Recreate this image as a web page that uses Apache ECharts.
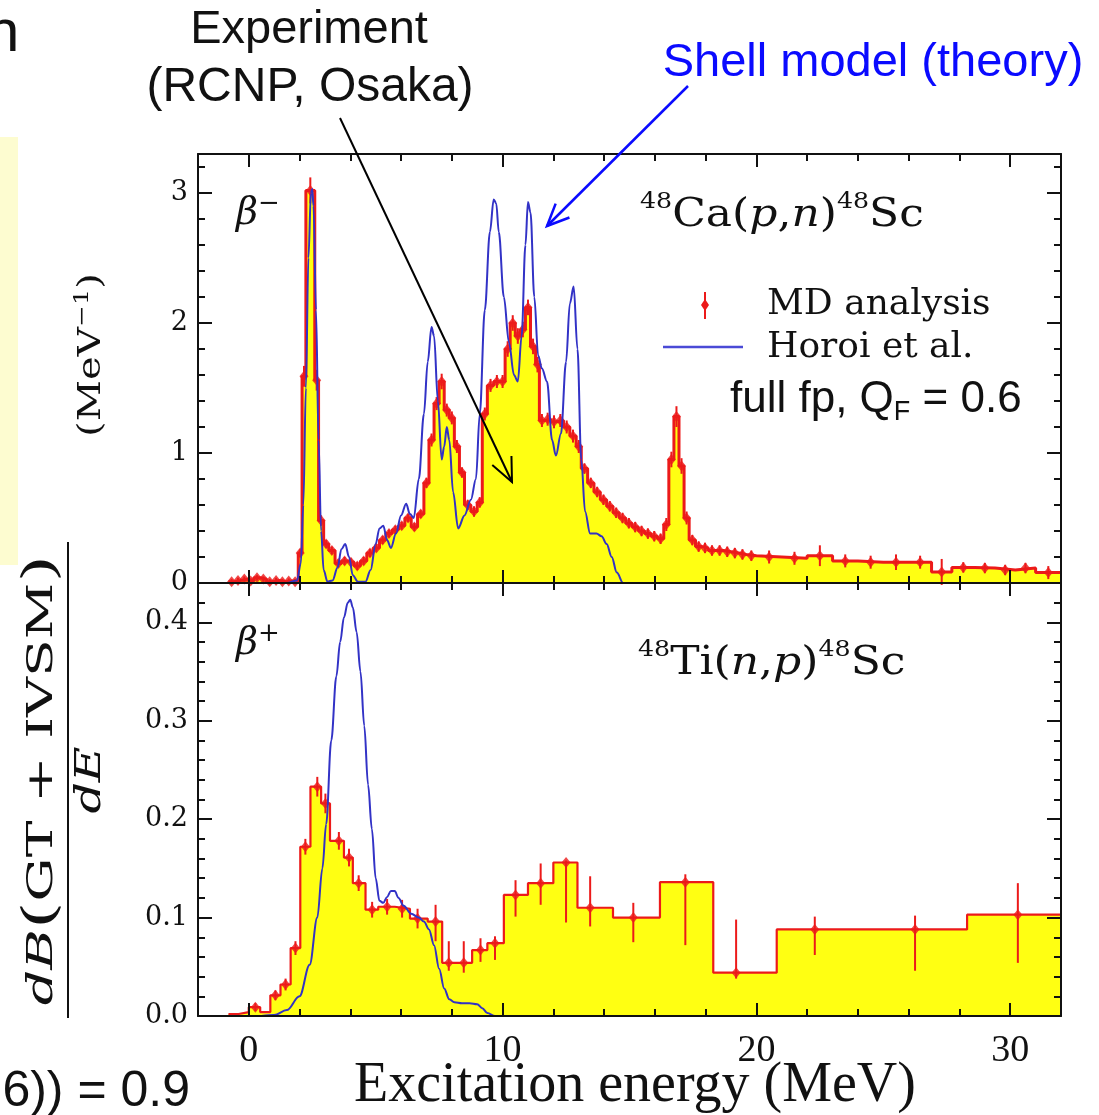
<!DOCTYPE html>
<html>
<head>
<meta charset="utf-8">
<title>48Ca(p,n) / 48Ti(n,p) strength distributions</title>
<script src="https://cdn.jsdelivr.net/npm/echarts@6.0.0/dist/echarts.min.js"></script>
<style>
html, body { margin: 0; padding: 0; background: #ffffff; }
#chart { width: 1099px; height: 1115px; }
</style>
</head>
<body>
<div id="chart"></div>
<script>
// ---- Axes: excitation energy (MeV) and the two strength panels ----
const xMin = -2, xMax = 32;
const xMajor = [0, 10, 20, 30];
const xMinor = [2, 4, 6, 8, 12, 14, 16, 18, 22, 24, 26, 28];
const topYMax = 3.3;
const topYMajor = [0, 1, 2, 3];
const topYMinor = [0.2, 0.4, 0.6, 0.8, 1.2, 1.4, 1.6, 1.8, 2.2, 2.4, 2.6, 2.8, 3.2];
const botYMax = 0.44;
const botYMajor = [0, 0.1, 0.2, 0.3, 0.4];
const botYMinor = [0.02, 0.04, 0.06, 0.08, 0.12, 0.14, 0.16, 0.18, 0.22, 0.24,
                   0.26, 0.28, 0.32, 0.34, 0.36, 0.38, 0.42];

// ---- beta-minus: 48Ca(p,n)48Sc, MD analysis (bin lower edges, values, errors) ----
const topEdges = [
  -0.8, -0.55, -0.3, -0.05, 0.2, 0.45, 0.7, 0.95, 1.2, 1.45,
  1.7, 1.95, 2.1, 2.25, 2.6, 2.75, 2.95, 3.15, 3.4, 3.65,
  3.9, 4.15, 4.4, 4.65, 4.9, 5.15, 5.4, 5.65, 5.9, 6.15,
  6.4, 6.65, 6.9, 7.1, 7.3, 7.5, 7.7, 7.9, 8.1, 8.3,
  8.5, 8.75, 9.0, 9.2, 9.4, 9.65, 9.9, 10.1, 10.3, 10.5,
  10.7, 10.9, 11.1, 11.3, 11.45, 11.65, 11.9, 12.15, 12.4, 12.65,
  12.9, 13.1, 13.35, 13.6, 13.85, 14.1, 14.35, 14.6, 14.85, 15.1,
  15.35, 15.6, 15.85, 16.1, 16.35, 16.55, 16.75, 16.95, 17.15, 17.35,
  17.6, 17.85, 18.1, 18.4, 18.7, 19.0, 19.3, 19.6, 20.0, 21.0,
  22.0, 23.0, 24.0, 25.0, 26.0, 26.9, 27.7, 28.6, 29.4, 30.2,
  31.0
];
const topEnd = 32.0;
const topVals = [
  0.01, 0.02, 0.03, 0.015, 0.04, 0.03, 0.01, 0.02, 0.01, 0.015,
  0.01, 0.23, 1.59, 3.02, 1.56, 0.48, 0.3, 0.25, 0.15, 0.17,
  0.16, 0.13, 0.17, 0.23, 0.27, 0.33, 0.38, 0.41, 0.44, 0.5,
  0.43, 0.53, 0.77, 1.1, 1.38, 1.55, 1.33, 1.27, 1.05, 0.85,
  0.6, 0.55, 0.62, 1.3, 1.52, 1.55, 1.55, 1.8, 2.0, 1.9,
  1.95, 2.12, 1.82, 1.68, 1.25, 1.26, 1.24, 1.25, 1.2, 1.13,
  1.05, 0.88, 0.77, 0.7, 0.64, 0.59, 0.54, 0.5, 0.46, 0.43,
  0.4, 0.38, 0.36, 0.34, 0.45, 0.95, 1.28, 0.9, 0.5, 0.33,
  0.28, 0.27, 0.25, 0.25, 0.24, 0.23, 0.22, 0.21, 0.2, 0.19,
  0.21, 0.17, 0.16, 0.16, 0.16, 0.085, 0.12, 0.115, 0.1, 0.115,
  0.08
];
const topErr = [
  0.02, 0.02, 0.02, 0.02, 0.02, 0.02, 0.02, 0.02, 0.02, 0.02,
  0.02, 0.03, 0.08, 0.1, 0.08, 0.04, 0.03, 0.03, 0.03, 0.03,
  0.03, 0.03, 0.03, 0.03, 0.03, 0.03, 0.03, 0.03, 0.03, 0.03,
  0.03, 0.03, 0.04, 0.05, 0.05, 0.06, 0.05, 0.05, 0.05, 0.04,
  0.04, 0.04, 0.04, 0.05, 0.05, 0.05, 0.05, 0.06, 0.06, 0.06,
  0.06, 0.06, 0.06, 0.06, 0.05, 0.05, 0.05, 0.05, 0.05, 0.05,
  0.05, 0.04, 0.04, 0.04, 0.04, 0.04, 0.04, 0.04, 0.04, 0.04,
  0.04, 0.04, 0.04, 0.04, 0.05, 0.06, 0.08, 0.06, 0.05, 0.04,
  0.04, 0.04, 0.04, 0.04, 0.04, 0.04, 0.04, 0.04, 0.05, 0.05,
  0.08, 0.05, 0.05, 0.06, 0.05, 0.1, 0.04, 0.04, 0.04, 0.04,
  0.05
];

// ---- beta-minus: shell model, Horoi et al. (full fp, QF = 0.6) ----
const topThE = [
  0.5, 1.5, 1.9, 2.05, 2.15, 2.25, 2.35, 2.45, 2.5, 2.55,
  2.65, 2.75, 2.85, 2.95, 3.1, 3.3, 3.5, 3.65, 3.8, 3.95,
  4.1, 4.3, 4.6, 4.8, 5.0, 5.15, 5.3, 5.45, 5.6, 5.8,
  6.0, 6.2, 6.35, 6.5, 6.7, 6.9, 7.05, 7.2, 7.3, 7.45,
  7.6, 7.7, 7.8, 7.9, 8.05, 8.25, 8.5, 8.75, 8.95, 9.1,
  9.3, 9.5, 9.65, 9.75, 9.85, 10.05, 10.25, 10.45, 10.6, 10.75,
  10.9, 11.0, 11.1, 11.25, 11.4, 11.55, 11.75, 11.95, 12.1, 12.3,
  12.5, 12.65, 12.8, 12.95, 13.1, 13.25, 13.45, 13.7, 13.9, 14.1,
  14.3, 14.5, 14.75, 15.0
];
const topThV = [
  0, 0, 0.02, 0.15, 0.6, 1.5, 2.5, 3.0, 3.03, 2.9,
  2.1, 1.1, 0.4, 0.1, 0.01, 0.02, 0.12, 0.26, 0.3, 0.2,
  0.06, 0.01, 0.01, 0.1, 0.3, 0.42, 0.44, 0.33, 0.27, 0.38,
  0.52, 0.61, 0.53, 0.5, 0.8, 1.3, 1.7, 1.97, 1.9, 1.4,
  0.95, 1.05, 1.2, 1.1, 0.7, 0.42, 0.52, 0.64, 0.8, 1.3,
  2.1, 2.7, 2.95, 2.92, 2.7, 2.2, 1.85, 1.6, 1.55, 1.9,
  2.6, 2.93, 2.85, 2.2, 1.75, 1.65, 1.55, 1.1, 0.98, 1.15,
  1.7, 2.15, 2.28, 1.8, 0.95, 0.55, 0.38, 0.38, 0.36, 0.3,
  0.2, 0.08, 0, 0
];

// ---- beta-plus: 48Ti(n,p)48Sc, MD analysis ----
const botEdges = [
  -0.8, -0.4, 0.0, 0.45, 0.85, 1.25, 1.65, 2.03, 2.43, 2.85,
  3.2, 3.75, 4.1, 4.6, 5.1, 5.75, 6.35, 7.05, 7.62, 8.15,
  8.8, 9.4, 10.05, 11.0, 12.0, 12.95, 14.35, 16.2, 18.3, 20.8,
  28.3
];
const botEnd = 32.0;
const botVals = [
  0.002, 0.004, 0.009, 0.004, 0.021, 0.032, 0.069, 0.172, 0.233, 0.216,
  0.178, 0.161, 0.135, 0.108, 0.111, 0.109, 0.099, 0.096, 0.054, 0.054,
  0.067, 0.074, 0.123, 0.135, 0.156, 0.11, 0.1, 0.136, 0.044, 0.088,
  0.103
];
const botPtE = [
  0.26, 1.05, 1.45, 1.84, 2.23, 2.7, 3.02, 3.55, 3.95, 4.33,
  4.86, 5.45, 6.04, 6.65, 7.36, 7.88, 8.47, 9.13, 9.7, 10.51,
  11.5, 12.5, 13.45, 15.15, 17.2, 19.2, 22.3, 26.25, 30.3
];
const botPtV = [
  0.009, 0.021, 0.032, 0.069, 0.172, 0.233, 0.216, 0.178, 0.161, 0.135,
  0.108, 0.111, 0.109, 0.099, 0.096, 0.054, 0.054, 0.067, 0.074, 0.123,
  0.135, 0.156, 0.11, 0.1, 0.136, 0.044, 0.088, 0.088, 0.103
];
const botErrLo = [
  0.004, 0.005, 0.006, 0.007, 0.008, 0.01, 0.01, 0.009, 0.009, 0.008,
  0.008, 0.008, 0.009, 0.01, 0.02, 0.008, 0.01, 0.012, 0.017, 0.022,
  0.022, 0.061, 0.019, 0.025, 0.064, 0.006, 0.026, 0.042, 0.049
];
const botErrHi = [
  0.004, 0.005, 0.006, 0.007, 0.008, 0.01, 0.01, 0.009, 0.009, 0.008,
  0.008, 0.008, 0.009, 0.01, 0.017, 0.022, 0.022, 0.012, 0.007, 0.015,
  0.02, 0.002, 0.032, 0.015, 0.008, 0.054, 0.013, 0.014, 0.032
];

// ---- beta-plus: shell model ----
const botThE = [
  0.5, 1.0, 1.5, 2.0, 2.4, 2.7, 2.9, 3.05, 3.25, 3.45,
  3.6, 3.75, 3.9, 4.0, 4.1, 4.25, 4.4, 4.55, 4.7, 4.85,
  5.0, 5.15, 5.3, 5.45, 5.6, 5.75, 5.9, 6.1, 6.4, 6.7,
  6.9, 7.1, 7.3, 7.5, 7.7, 7.9, 8.1, 8.4, 8.7, 9.0,
  9.2, 9.4, 9.7, 10.0
];
const botThV = [
  0, 0.001, 0.006, 0.02, 0.052, 0.1, 0.15, 0.195, 0.28, 0.345,
  0.38, 0.405, 0.42, 0.423, 0.415, 0.39, 0.35, 0.295, 0.235, 0.19,
  0.14, 0.117, 0.115, 0.121, 0.127, 0.127, 0.12, 0.112, 0.104, 0.1,
  0.096, 0.088, 0.072, 0.048, 0.028, 0.017, 0.014, 0.013, 0.013, 0.012,
  0.008, 0.003, 0, 0
];

// ---- styling ----
const INK = '#111111';
const RED = '#ec1a1a';
const BLUE = '#3232c6';
const YELLOW = '#ffff12';
const SERIF = '"DejaVu Serif", serif';
const TIMES = '"Liberation Serif", serif';
const SANS = '"Liberation Sans", Arial, sans-serif';
const ZG = 100;

// histogram as a step outline: each bin starts at its lower edge
function histogram(edges, vals, end) {
  const d = edges.map((e, i) => [e, vals[i]]);
  d.push([end, vals[vals.length - 1]]);
  return d;
}
function binCenters(edges, end) {
  return edges.map((e, i) => (e + (i + 1 < edges.length ? edges[i + 1] : end)) / 2);
}
function pairs(xs, ys) { return xs.map((x, i) => [x, ys[i]]); }

const topCenters = binCenters(topEdges, topEnd);
const topPoints = topCenters.map((c, i) => [c, topVals[i], topErr[i], topErr[i]]);
const botPoints = botPtE.map((e, i) => [e, botPtV[i], botErrLo[i], botErrHi[i]]);

function xAx(grid, position, ticks, len, line, labels) {
  return {
    type: 'value', gridIndex: grid, position, min: xMin, max: xMax,
    axisLine: { show: line, onZero: false, lineStyle: { color: INK, width: 2 } },
    axisTick: { show: true, inside: true, length: len, customValues: ticks,
                lineStyle: { color: INK, width: 2 } },
    axisLabel: labels
      ? { show: true, customValues: ticks, margin: 16, color: INK,
          fontFamily: TIMES, fontSize: 38, formatter: v => String(v) }
      : { show: false },
    splitLine: { show: false }, z: 10
  };
}
function yAx(grid, position, max, ticks, len, line, labelFmt) {
  return {
    type: 'value', gridIndex: grid, position, min: 0, max,
    axisLine: { show: line, onZero: false, lineStyle: { color: INK, width: 2 } },
    axisTick: { show: true, inside: true, length: len, customValues: ticks,
                lineStyle: { color: INK, width: 2 } },
    axisLabel: labelFmt
      ? { show: true, customValues: ticks, margin: 10, color: INK,
          fontFamily: SERIF, fontSize: 27, formatter: labelFmt }
      : { show: false },
    splitLine: { show: false }, z: 10
  };
}
function errorBars(xi, yi, data, w) {
  return {
    type: 'custom', xAxisIndex: xi, yAxisIndex: yi, data, z: 4, silent: true,
    encode: { x: 0, y: 1 },
    renderItem(params, api) {
      const x = api.value(0), v = api.value(1);
      const lo = api.coord([x, v - api.value(2)]);
      const hi = api.coord([x, v + api.value(3)]);
      return { type: 'line', shape: { x1: lo[0], y1: lo[1], x2: hi[0], y2: hi[1] },
               style: { stroke: RED, lineWidth: w } };
    }
  };
}
function txt(x, y, text, style, extra) {
  return Object.assign({ type: 'text', x, y, z: ZG, silent: true,
    style: Object.assign({ text, fill: INK }, style) }, extra || {});
}
function arrow(x1, y1, x2, y2, color, head, width) {
  const dx = x2 - x1, dy = y2 - y1, L = Math.hypot(dx, dy);
  const ux = dx / L, uy = dy / L, a = 0.42;
  const c = Math.cos(a), s = Math.sin(a);
  const l1 = [x2 - head * (ux * c - uy * s), y2 - head * (uy * c + ux * s)];
  const l2 = [x2 - head * (ux * c + uy * s), y2 - head * (uy * c - ux * s)];
  return [
    { type: 'line', z: ZG, silent: true, shape: { x1, y1, x2, y2 },
      style: { stroke: color, lineWidth: width } },
    { type: 'polyline', z: ZG, silent: true, shape: { points: [l1, [x2, y2], l2] },
      style: { stroke: color, lineWidth: width, fill: null } }
  ];
}

const GL = 198, GW = 863;

const option = {
  backgroundColor: '#ffffff',
  animation: false,
  grid: [
    { left: GL, top: 154, width: GW, height: 429, outerBoundsMode: 'none' },
    { left: GL, top: 583, width: GW, height: 433, outerBoundsMode: 'none' }
  ],
  xAxis: [
    xAx(0, 'bottom', xMajor, 13, true, false),
    xAx(0, 'bottom', xMinor, 7, false, false),
    xAx(0, 'top', xMajor, 13, true, false),
    xAx(0, 'top', xMinor, 7, false, false),
    xAx(1, 'bottom', xMajor, 13, true, true),
    xAx(1, 'bottom', xMinor, 7, false, false),
    xAx(1, 'top', xMajor, 13, true, false),
    xAx(1, 'top', xMinor, 7, false, false)
  ],
  yAxis: [
    yAx(0, 'left', topYMax, topYMajor, 14, true, v => String(v)),
    yAx(0, 'left', topYMax, topYMinor, 7, false, null),
    yAx(0, 'right', topYMax, topYMajor, 14, true, null),
    yAx(0, 'right', topYMax, topYMinor, 7, false, null),
    yAx(1, 'left', botYMax, botYMajor, 14, true, v => v.toFixed(1)),
    yAx(1, 'left', botYMax, botYMinor, 7, false, null),
    yAx(1, 'right', botYMax, botYMajor, 14, true, null),
    yAx(1, 'right', botYMax, botYMinor, 7, false, null)
  ],
  series: [
    { name: 'MD analysis', type: 'line', xAxisIndex: 0, yAxisIndex: 0, step: 'end',
      data: histogram(topEdges, topVals, topEnd), symbol: 'none', z: 2,
      lineStyle: { color: RED, width: 3 }, areaStyle: { color: YELLOW, opacity: 1 } },
    errorBars(0, 0, topPoints, 2),
    { type: 'scatter', xAxisIndex: 0, yAxisIndex: 0, data: topPoints, symbol: 'diamond',
      symbolSize: [9, 11], itemStyle: { color: RED }, z: 4, silent: true },
    { name: 'Horoi et al.', type: 'line', xAxisIndex: 0, yAxisIndex: 0,
      data: pairs(topThE, topThV), smooth: 0.35, smoothMonotone: 'x', symbol: 'none', z: 6,
      lineStyle: { color: BLUE, width: 2 } },

    { type: 'line', xAxisIndex: 4, yAxisIndex: 4, step: 'end',
      data: histogram(botEdges, botVals, botEnd), symbol: 'none', z: 2,
      lineStyle: { color: RED, width: 2.2 }, areaStyle: { color: YELLOW, opacity: 1 } },
    errorBars(4, 4, botPoints, 2),
    { type: 'scatter', xAxisIndex: 4, yAxisIndex: 4, data: botPoints, symbol: 'diamond',
      symbolSize: [9, 11], itemStyle: { color: RED }, z: 4, silent: true },
    { type: 'line', xAxisIndex: 4, yAxisIndex: 4,
      data: pairs(botThE, botThV), smooth: 0.35, smoothMonotone: 'x', symbol: 'none', z: 6,
      lineStyle: { color: BLUE, width: 2 } }
  ],
  graphic: { elements: [
    // slide background pieces around the figure
    { type: 'rect', z: ZG, silent: true, shape: { x: 0, y: 137, width: 18, height: 428 },
      style: { fill: '#fdfcd0' } },
    txt(-14, 64, 'n', { fontFamily: SANS, fontSize: 60, align: 'left', verticalAlign: 'bottom' }),
    txt(190, 1092, '6)) = 0.9', { fontFamily: SANS, fontSize: 50, align: 'right', verticalAlign: 'middle' }),

    // callouts
    txt(309, 30, 'Experiment', { fontFamily: SANS, fontSize: 47, align: 'center', verticalAlign: 'middle' }),
    txt(310, 88, '(RCNP, Osaka)', { fontFamily: SANS, fontSize: 48, align: 'center', verticalAlign: 'middle' }),
    txt(873, 63, 'Shell model (theory)', { fontFamily: SANS, fontSize: 47, align: 'center',
      verticalAlign: 'middle', fill: '#0a0aff' }),
    ...arrow(340, 118, 512, 482, '#000000', 26, 2),
    ...arrow(688, 86, 547, 226, '#0a0aff', 24, 2.5),

    // panel labels
    txt(236, 214, '{b|β}{s|−}', { align: 'left', verticalAlign: 'middle', rich: {
      b: { fontFamily: SERIF, fontStyle: 'italic', fontSize: 38, lineHeight: 46 },
      s: { fontFamily: SERIF, fontSize: 26, verticalAlign: 'top', lineHeight: 26 } } }),
    txt(236, 644, '{b|β}{s|+}', { align: 'left', verticalAlign: 'middle', rich: {
      b: { fontFamily: SERIF, fontStyle: 'italic', fontSize: 38, lineHeight: 46 },
      s: { fontFamily: SERIF, fontSize: 26, verticalAlign: 'top', lineHeight: 26 } } }),
    txt(640, 216, '{s|48}{r|Ca(}{i|p}{r|,}{i|n}{r|)}{s|48}{r|Sc}', { align: 'left', verticalAlign: 'middle', rich: {
      r: { fontFamily: SERIF, fontSize: 40, lineHeight: 50 },
      i: { fontFamily: SERIF, fontStyle: 'italic', fontSize: 40, lineHeight: 50 },
      s: { fontFamily: SERIF, fontSize: 23, verticalAlign: 'top', lineHeight: 26 } } }, { scaleX: 1.1 }),
    txt(638, 664, '{s|48}{r|Ti(}{i|n}{r|,}{i|p}{r|)}{s|48}{r|Sc}', { align: 'left', verticalAlign: 'middle', rich: {
      r: { fontFamily: SERIF, fontSize: 40, lineHeight: 50 },
      i: { fontFamily: SERIF, fontStyle: 'italic', fontSize: 40, lineHeight: 50 },
      s: { fontFamily: SERIF, fontSize: 23, verticalAlign: 'top', lineHeight: 26 } } }, { scaleX: 1.1 }),

    // legend
    { type: 'line', z: ZG, silent: true, shape: { x1: 705, y1: 292, x2: 705, y2: 319 },
      style: { stroke: RED, lineWidth: 2 } },
    { type: 'polygon', z: ZG, silent: true, shape: { points: [[705, 299], [709, 305], [705, 311], [701, 305]] },
      style: { fill: RED } },
    txt(767, 305, 'MD analysis', { fontFamily: SERIF, fontSize: 36, align: 'left', verticalAlign: 'middle' }),
    { type: 'line', z: ZG, silent: true, shape: { x1: 663, y1: 347, x2: 743, y2: 347 },
      style: { stroke: '#4a4ad6', lineWidth: 2.5 } },
    txt(767, 348, 'Horoi et al.', { fontFamily: SERIF, fontSize: 36, align: 'left', verticalAlign: 'middle' }),
    txt(730, 400, '{a|full fp, Q}{f|F}{a| = 0.6}', { align: 'left', verticalAlign: 'middle', rich: {
      a: { fontFamily: SANS, fontSize: 44, lineHeight: 52 },
      f: { fontFamily: SANS, fontSize: 27, verticalAlign: 'bottom', lineHeight: 30 } } }),

    // y-axis title: dB(GT+IVSM)/dE (MeV^-1), read bottom to top
    { type: 'group', x: 68, y: 780, rotation: Math.PI / 2, silent: true, children: [
      txt(0, -3, '{i|dB}{p|(}{r|GT + IVSM}{p|)}', { align: 'center', verticalAlign: 'bottom', rich: {
        i: { fontFamily: SERIF, fontStyle: 'italic', fontSize: 35 },
        r: { fontFamily: SERIF, fontSize: 35 },
        p: { fontFamily: SERIF, fontSize: 45 } } }, { scaleX: 1.58 }),
      { type: 'line', z: ZG, shape: { x1: -238, y1: 0, x2: 238, y2: 0 }, style: { stroke: INK, lineWidth: 2 } },
      txt(0, 5, '{i|dE}', { align: 'center', verticalAlign: 'top', rich: {
        i: { fontFamily: SERIF, fontStyle: 'italic', fontSize: 35 } } }, { scaleX: 1.4 }),
      txt(425, 24, '{r|(MeV}{s|−1}{r|)}', { align: 'center', verticalAlign: 'middle', rich: {
        r: { fontFamily: SERIF, fontSize: 31, lineHeight: 38 },
        s: { fontFamily: SERIF, fontSize: 20, verticalAlign: 'top', lineHeight: 20 } } }, { scaleX: 1.3 })
    ] },

    // x-axis title
    txt(635, 1086, 'Excitation energy (MeV)', { fontFamily: TIMES, fontSize: 56, align: 'center', verticalAlign: 'middle' })
  ] }
};

const chart = echarts.init(document.getElementById('chart'), null, { renderer: 'canvas' });
chart.setOption(option);
</script>
</body>
</html>
